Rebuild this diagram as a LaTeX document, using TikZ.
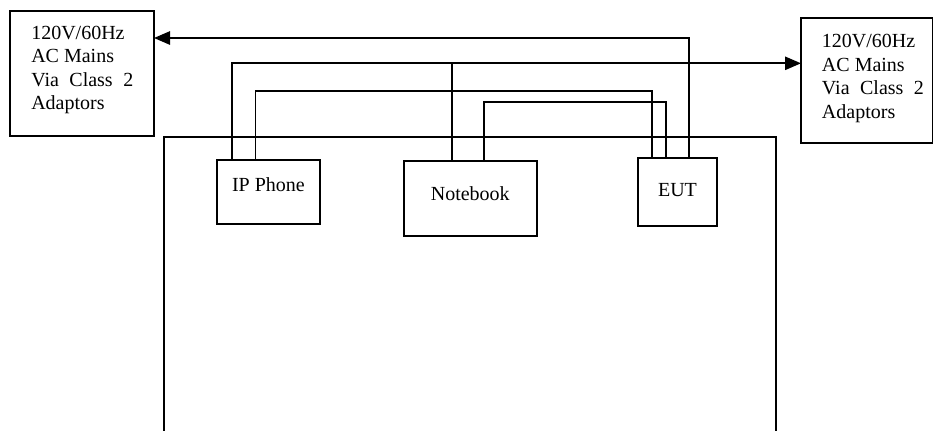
\documentclass[tikz,border=0pt]{standalone}
\usepackage{fontspec}
\setmainfont{Liberation Serif}
\usetikzlibrary{arrows.meta,calc}
\begin{document}
\begin{tikzpicture}[x=0.75pt,y=-0.75pt,
  box/.style={draw,line width=1.4pt,inner sep=0pt,outer sep=0pt},
  wire/.style={line width=1.3pt},
  arr/.style={wire,-{Triangle[length=12pt,width=10pt]}},
  lbl/.style={inner sep=0pt,font=\fontsize{15}{17.6}\selectfont},
  mains/.style={lbl,align=left,anchor=north west}]
\useasboundingbox (0,0) rectangle (933,430);
% power source boxes
\node[box,minimum width=144*0.75pt,minimum height=125*0.75pt] (lmain) at (82,73.5) {};
\node[box,minimum width=131.5*0.75pt,minimum height=125*0.75pt] (rmain) at (866.75,80.5) {};
\node[mains] (ltext) at (31,25.8) {120V/60Hz\\AC Mains\\\makebox[76.5pt][s]{Via Class 2}\\Adaptors};
\node[mains] (rtext) at (821.7,34.2) {120V/60Hz\\AC Mains\\\makebox[76.5pt][s]{Via Class 2}\\Adaptors};
% table
\draw[wire] (164,432) -- (164,136.7) -- (776,136.7) -- (776,432);
% devices
\node[box,minimum width=103.6*0.75pt,minimum height=64.3*0.75pt] (ip) at (268.4,192.15) {};
\node[box,minimum width=132.6*0.75pt,minimum height=75.3*0.75pt] (nb) at (470.3,198.35) {};
\node[box,minimum width=78.4*0.75pt,minimum height=67.7*0.75pt] (eut) at (677.5,192.15) {};
\node[lbl,anchor=base] (iptext) at (268.4,191) {IP Phone};
\node[lbl,anchor=base] (nbtext) at (470.3,200) {Notebook};
\node[lbl,anchor=base] (euttext) at (677.5,196.7) {EUT};
% wire heights
\coordinate (h1) at (0,38);
\coordinate (h2) at (0,63.3);
\coordinate (h3) at (0,91);
\coordinate (h4) at (0,101.7);
% connection points
\coordinate (ipA) at ($(ip.north west)+(15.4,0)$);
\coordinate (ipB) at ($(ip.north west)+(39,0)$);
\coordinate (nbA) at ($(nb.north west)+(48,0)$);
\coordinate (nbB) at ($(nb.north west)+(80,0)$);
\coordinate (eutB) at ($(eut.north west)+(14,0)$);
\coordinate (eutC) at ($(eut.north west)+(27.7,0)$);
\coordinate (eutA) at ($(eut.north west)+(51,0)$);
% connectors
\draw[arr] (eutA) |- (lmain.east |- h1);
\draw[arr] (ipA) |- (rmain.west |- h2);
\draw[wire] (nbA) -- (nbA |- h2);
\draw[wire] (ipB) |- (eutB |- h3) -- (eutB);
\draw[wire] (nbB) |- (eutC |- h4) -- (eutC);
\end{tikzpicture}
\end{document}
